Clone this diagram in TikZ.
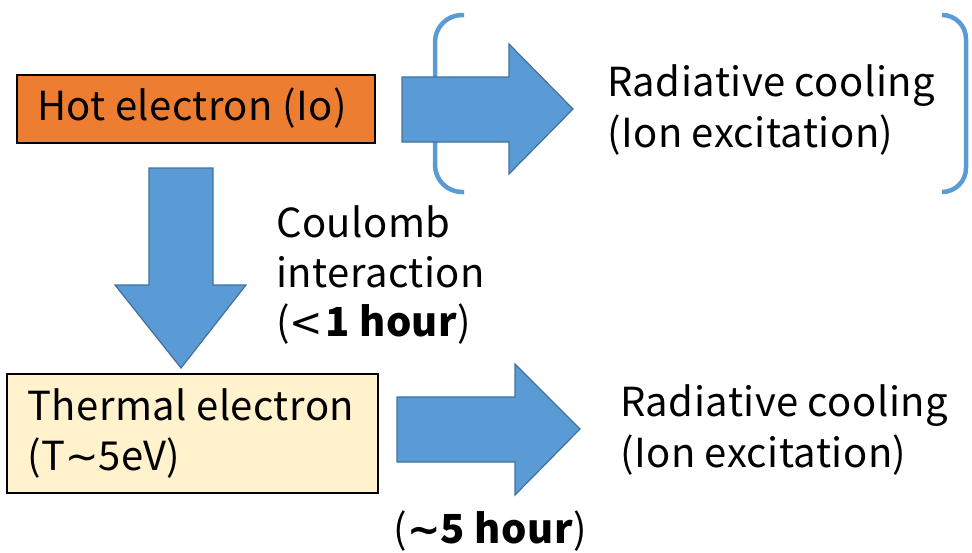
\documentclass[tikz,border=0pt]{standalone}
\usepackage{fontspec}
\setmainfont[LetterSpace=1.2]{Noto Sans CJK JP}
\newfontfamily\symfont{DejaVu Sans}
\definecolor{hotorange}{HTML}{ED7D31}
\definecolor{cream}{HTML}{FFF2CC}
\definecolor{arrowblue}{HTML}{5B9BD5}
\definecolor{arrowedge}{HTML}{41719C}
\tikzset{
  blockarrow/.style={fill=arrowblue, draw=arrowedge, line width=1.2pt, line join=miter},
  bracketline/.style={draw=arrowblue, line width=4.5pt},
  boxshape/.style={draw=black, line width=1.2pt},
  txt/.style={anchor=base west, inner sep=0pt, font=\fontsize{40}{50}\selectfont},
}
\begin{document}
\begin{tikzpicture}[x=1pt,y=-1pt]
\useasboundingbox (0,0) rectangle (972,552);
% boxes
\draw[boxshape, fill=hotorange] (17,75) rectangle (375,143);
\draw[boxshape, fill=cream] (7,374) rectangle (378,493);
% brackets
\draw[bracketline, rounded corners=27pt] (464,15) -- (435,15) -- (435,192) -- (464,192);
\draw[bracketline, rounded corners=24pt] (942,15) -- (966,15) -- (966,192) -- (942,192);
% block arrows
\draw[blockarrow] (402,77) -- (509,77) -- (509,44) -- (573,109) -- (509,174) -- (509,142) -- (402,142) -- cycle;
\draw[blockarrow] (149,168) -- (213,168) -- (213,285) -- (246,285) -- (181,368) -- (115,285) -- (149,285) -- cycle;
\draw[blockarrow] (397,397) -- (515,397) -- (515,364) -- (580,429) -- (515,495) -- (515,462) -- (397,462) -- cycle;
% texts
\node[txt] (hot) at (37,120) {Hot electron (Io)};
\node[txt] (th1) at (27,420) {Thermal electron};
\node[txt] (th2) at (27,470) {(T{\symfont ∼}5eV)};
\node[txt] (r1a) at (607,96) {Radiative cooling};
\node[txt] (r1b) at (607,147) {(Ion excitation)};
\node[txt] (c1) at (276,237) {Coulomb};
\node[txt] (c2) at (276,287) {interaction};
\node[txt] (c3) at (276,336) {({\symfont <}\kern2pt\textbf{1 hour})};
\node[txt] (r2a) at (620,416) {Radiative cooling};
\node[txt] (r2b) at (620,467) {(Ion excitation)};
\node[txt] (h5) at (393,543) {(\textbf{{\symfont ∼}5 hour})};
\end{tikzpicture}
\end{document}
